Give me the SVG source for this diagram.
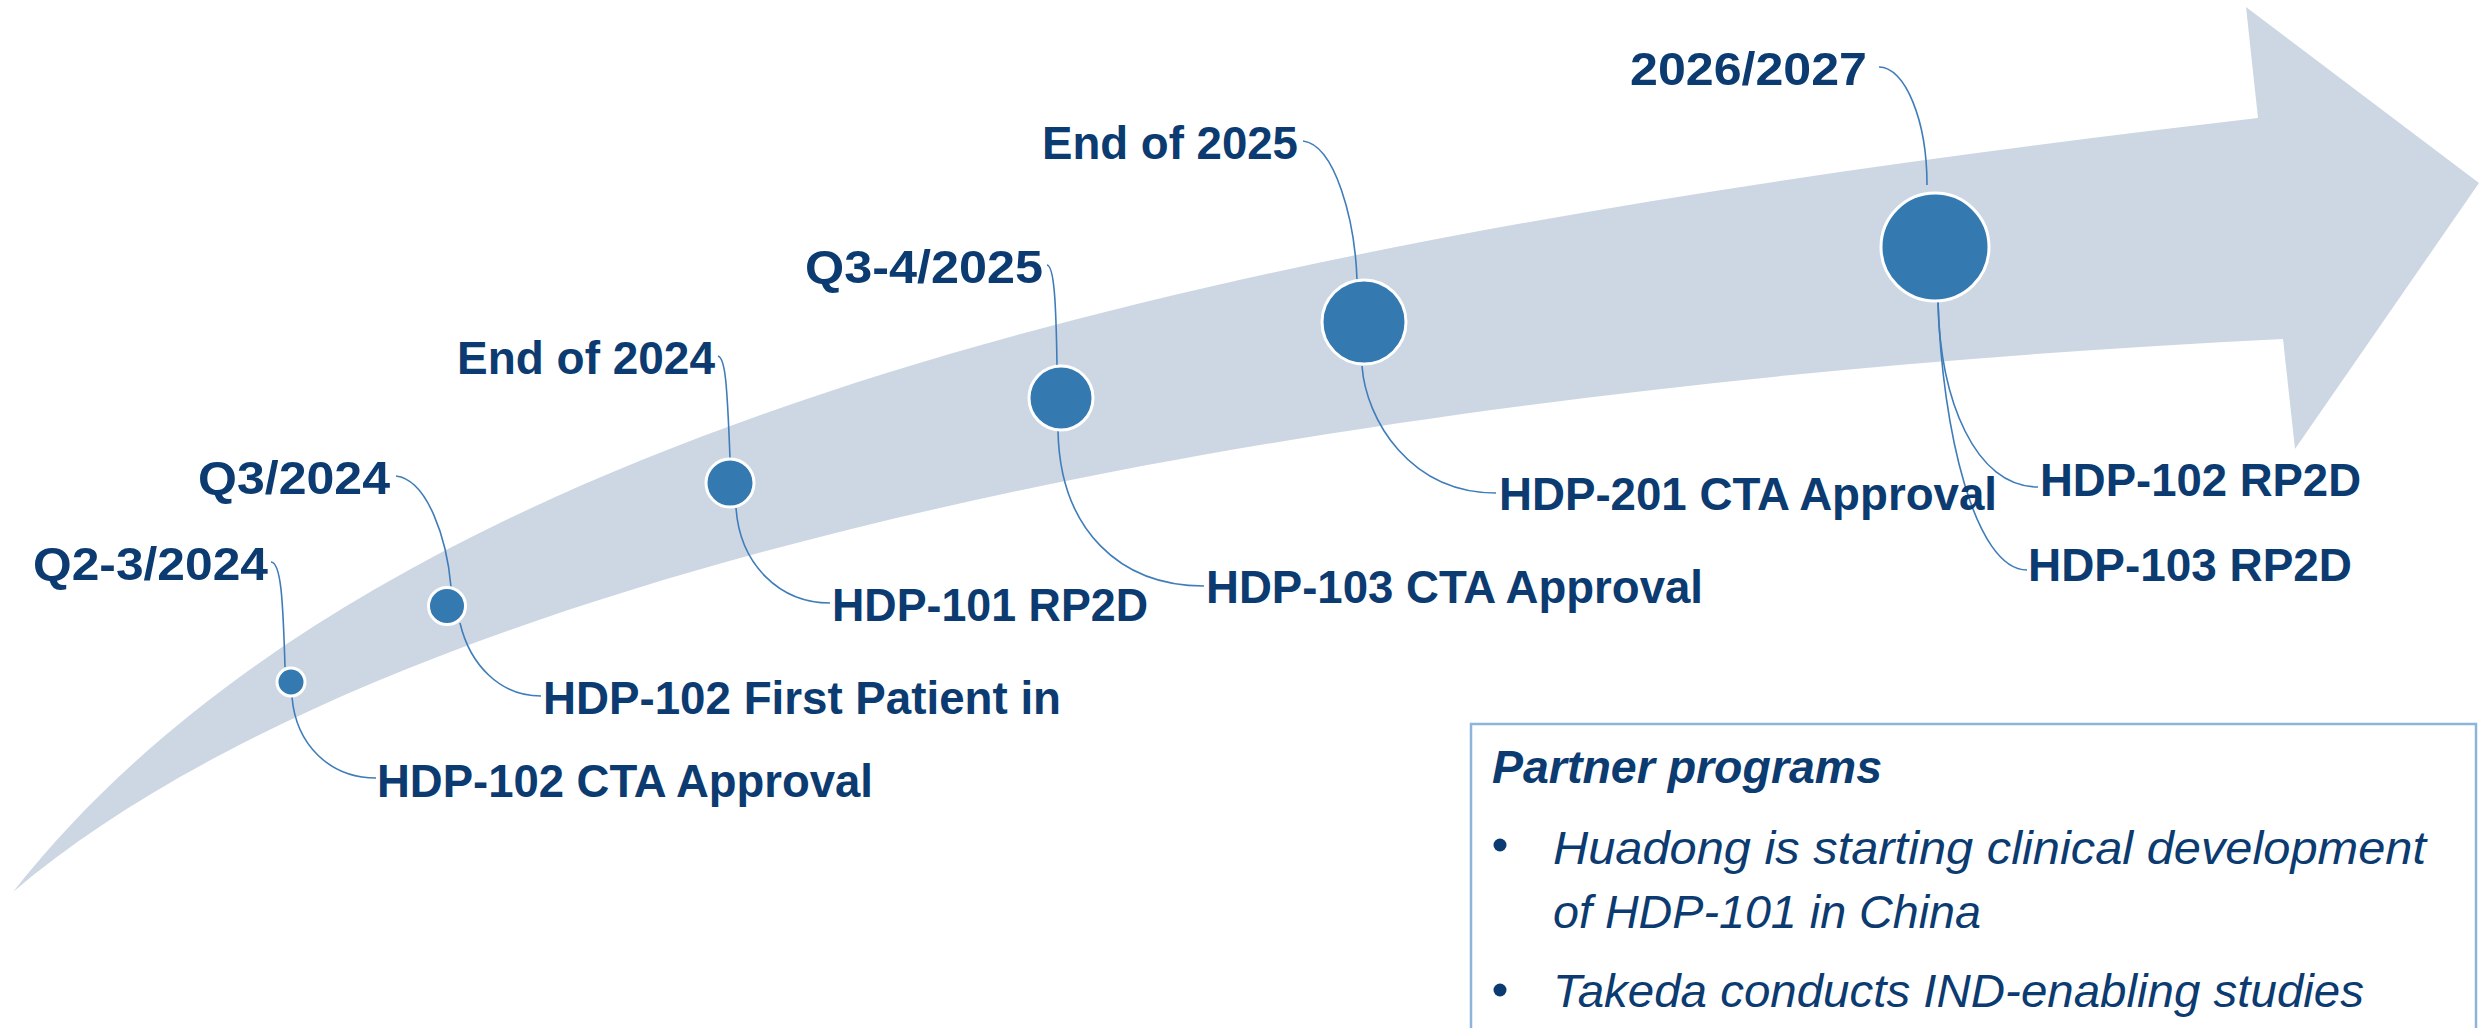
<svg xmlns="http://www.w3.org/2000/svg" width="2484" height="1028" viewBox="0 0 2484 1028">
<style>
.lbl{font-family:"Liberation Sans",Arial,sans-serif;font-weight:bold;font-size:47px;fill:#0B3B70}
.box{font-family:"Liberation Sans",Arial,sans-serif;font-style:italic;font-size:47px;fill:#0B3B70}
.dot{fill:#3579B1;stroke:#FFFFFF;stroke-width:3}
.con{fill:none;stroke:#3F7DBA;stroke-width:1.6}
</style>
<rect width="2484" height="1028" fill="#FFFFFF"/>
<g id="arrow">
<path d="M13,892 C400,400 1300,230 2258,118 L2246,7 L2479,183 L2295,449 L2283,339 C1250,390 380,580 13,892 Z" fill="#CDD7E3"/>
</g>
<g id="connectors">
<path class="con" d="M271,562 C281,562 283,600 285,667"/>
<path class="con" d="M292,697 C296,745 330,778 376,778"/>
<path class="con" d="M396,476 C428,480 447,540 451,587"/>
<path class="con" d="M460,623 C470,665 500,696 541,696"/>
<path class="con" d="M718,356 C725,358 727,380 730,458"/>
<path class="con" d="M736,508 C740,565 780,603 830,603"/>
<path class="con" d="M1047,265 C1054,266 1056,300 1057,365"/>
<path class="con" d="M1058,431 C1060,530 1120,586 1204,586"/>
<path class="con" d="M1303,141 C1335,145 1355,220 1357,280"/>
<path class="con" d="M1362,366 C1366,420 1410,493 1496,493"/>
<path class="con" d="M1879,67 C1905,67 1927,120 1927,185"/>
<path class="con" d="M1938,302 C1940,400 1975,487 2038,487"/>
<path class="con" d="M1938,302 C1942,430 1975,570 2027,570"/>
</g>
<g id="m1">
<circle class="dot" cx="291" cy="682" r="14"/>
<text class="lbl" x="33" y="580" textLength="235" lengthAdjust="spacingAndGlyphs">Q2-3/2024</text>
<text class="lbl" x="377" y="797" textLength="496" lengthAdjust="spacingAndGlyphs">HDP-102 CTA Approval</text>
</g>
<g id="m2">
<circle class="dot" cx="447" cy="606" r="18.5"/>
<text class="lbl" x="198" y="494" textLength="192" lengthAdjust="spacingAndGlyphs">Q3/2024</text>
<text class="lbl" x="543" y="714" textLength="518" lengthAdjust="spacingAndGlyphs">HDP-102 First Patient in</text>
</g>
<g id="m3">
<circle class="dot" cx="730" cy="483" r="24"/>
<text class="lbl" x="457" y="374" textLength="258" lengthAdjust="spacingAndGlyphs">End of 2024</text>
<text class="lbl" x="832" y="621" textLength="316" lengthAdjust="spacingAndGlyphs">HDP-101 RP2D</text>
</g>
<g id="m4">
<circle class="dot" cx="1061" cy="398" r="32"/>
<text class="lbl" x="805" y="283" textLength="238" lengthAdjust="spacingAndGlyphs">Q3-4/2025</text>
<text class="lbl" x="1206" y="603" textLength="497" lengthAdjust="spacingAndGlyphs">HDP-103 CTA Approval</text>
</g>
<g id="m5">
<circle class="dot" cx="1364" cy="322" r="42"/>
<text class="lbl" x="1042" y="159" textLength="256" lengthAdjust="spacingAndGlyphs">End of 2025</text>
<text class="lbl" x="1499" y="510" textLength="498" lengthAdjust="spacingAndGlyphs">HDP-201 CTA Approval</text>
</g>
<g id="m6">
<circle class="dot" cx="1935" cy="247" r="54"/>
<text class="lbl" x="1630" y="85" textLength="237" lengthAdjust="spacingAndGlyphs">2026/2027</text>
<text class="lbl" x="2040" y="496" textLength="321" lengthAdjust="spacingAndGlyphs">HDP-102 RP2D</text>
<text class="lbl" x="2028" y="581" textLength="324" lengthAdjust="spacingAndGlyphs">HDP-103 RP2D</text>
</g>
<g id="partner-box">
<rect x="1471" y="724" width="1005" height="330" fill="#FFFFFF" stroke="#8DB4DB" stroke-width="2.5"/>
<text class="box" x="1492" y="783" font-weight="bold" textLength="390" lengthAdjust="spacingAndGlyphs">Partner programs</text>
<circle cx="1500" cy="845" r="6.5" fill="#0B3B70"/>
<text class="box" x="1553" y="864" textLength="873" lengthAdjust="spacingAndGlyphs">Huadong is starting clinical development</text>
<text class="box" x="1553" y="928" textLength="428" lengthAdjust="spacingAndGlyphs">of HDP-101 in China</text>
<circle cx="1500" cy="990" r="6.5" fill="#0B3B70"/>
<text class="box" x="1553" y="1007" textLength="811" lengthAdjust="spacingAndGlyphs">Takeda conducts IND-enabling studies</text>
</g>
</svg>
